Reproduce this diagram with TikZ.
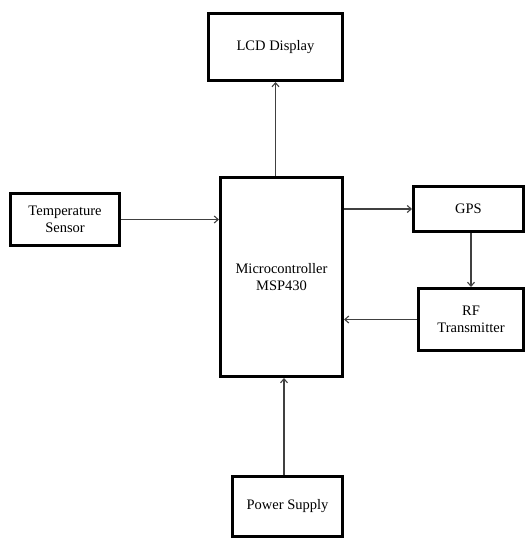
\documentclass[tikz,border=0pt]{standalone}
\usepackage{fontspec}
\setmainfont{Liberation Serif}
\usetikzlibrary{arrows.meta}
\begin{document}
\begin{tikzpicture}[x=1pt,y=-1pt,
  blk/.style={draw=black, line width=3pt, rectangle, inner sep=0pt, align=center,
    font=\fontsize{14.5}{17.5}\selectfont},
  conn/.style={draw=black!75, line width=1.1pt, -{Straight Barb[length=4pt,width=7pt]}}]
\useasboundingbox (0,0) rectangle (525,538);
\node[blk, minimum width=134pt, minimum height=67pt] (lcd) at (275.5,47) {LCD Display};
\node[blk, minimum width=109pt, minimum height=52pt] (temp) at (65,219.5) {Temperature\\Sensor};
\node[blk, minimum width=122pt, minimum height=199pt] (mcu) at (281.5,277) {Microcontroller\\MSP430};
\node[blk, minimum width=110pt, minimum height=45pt] (gps) at (468.5,209) {GPS};
\node[blk, minimum width=105pt, minimum height=62pt] (rf) at (471,319.5) {RF\\Transmitter};
\node[blk, minimum width=110pt, minimum height=60pt] (psu) at (287.5,506.5) {Power Supply};
\draw[conn] (mcu.north -| lcd.south) -- (lcd.south);
\draw[conn] (temp.east) -- (temp.east -| mcu.west);
\draw[conn] (mcu.east |- gps.west) -- (gps.west);
\draw[conn] (rf.north |- gps.south) -- (rf.north);
\draw[conn] (rf.west) -- (rf.west -| mcu.east);
\draw[conn] ([xshift=-3.5pt]psu.north) -- ([xshift=-3.5pt]psu.north |- mcu.south);
\end{tikzpicture}
\end{document}
